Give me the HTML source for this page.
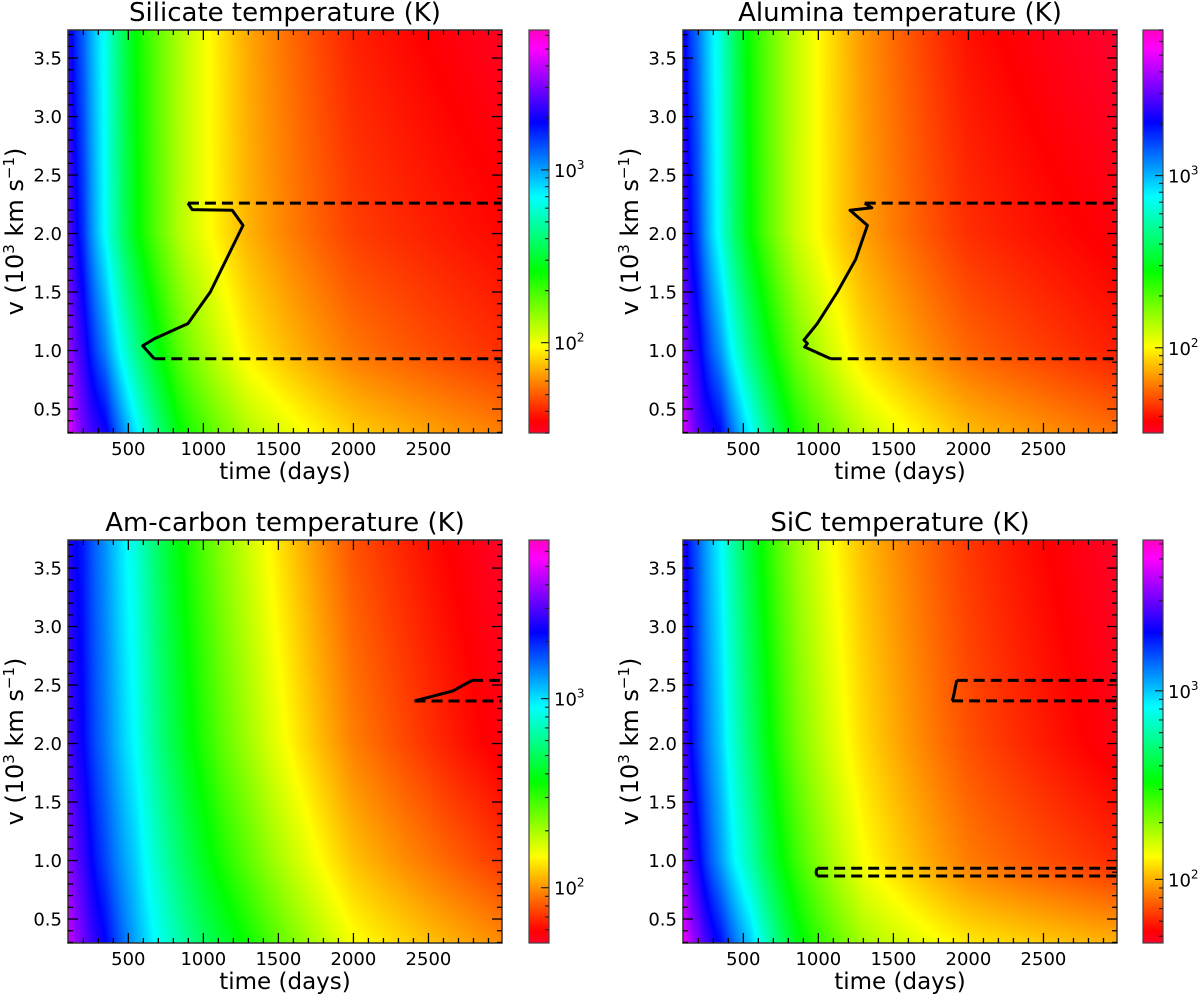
<!DOCTYPE html>
<html><head><meta charset="utf-8">
<style>
html,body{margin:0;padding:0;background:#fff;}
#root{position:relative;width:1200px;height:997px;overflow:hidden;font-family:"DejaVu Sans","Liberation Sans",sans-serif;}
canvas{position:absolute;}
svg{position:absolute;left:0;top:0;}
</style></head>
<body>
<div id="root"></div>
<script>
// ---- data ----
const T_TIMES = [100, 200, 350, 550, 850, 1300, 2000, 3000];
const V_ROWS = [0.3, 1.0, 2.0, 3.75];
// Silicate temperature (K) per velocity row
const SIL_V03 = [4900, 2880, 2000, 760, 257, 129, 79, 58];
const SIL_V10 = [3550, 2240, 1120, 447, 178, 89, 56, 42];
const SIL_V20 = [2820, 1580, 676, 275, 126, 71, 45, 36];
const SIL_V375 = [2190, 1290, 646, 257, 129, 68, 40, 31];
// Alumina
const ALU_V03 = [4900, 2880, 2000, 760, 257, 129, 79, 58];
const ALU_V10 = [3550, 2240, 1120, 447, 178, 89, 56, 42];
const ALU_V20 = [2820, 1580, 676, 275, 126, 71, 45, 36];
const ALU_V375 = [2190, 1290, 646, 257, 129, 68, 40, 31];
// Am-carbon
const AMC_V03 = [4680, 3310, 2240, 1230, 661, 347, 150, 97];
const AMC_V10 = [3800, 2750, 1740, 1070, 537, 260, 118, 72];
const AMC_V20 = [3020, 2240, 1450, 891, 427, 204, 93, 56];
const AMC_V375 = [2570, 2040, 1320, 794, 363, 174, 79, 51];
// SiC
const SIC_V03 = [4900, 3160, 1950, 977, 363, 182, 123, 100];
const SIC_V10 = [3470, 2140, 1170, 617, 269, 135, 83, 62];
const SIC_V20 = [2750, 1660, 977, 490, 219, 117, 71, 50];
const SIC_V375 = [2340, 1450, 832, 398, 191, 105, 65, 46];
// colorbar ranges (K)
const CB_MIN = [30, 32, 51, 46];
const CB_MAX = [6450, 7000, 6900, 6300];
// condensation contours
const SIL_SOLID_T = [897, 925, 1192, 1264, 1046, 897, 673, 596, 673];
const SIL_SOLID_V = [2.26, 2.205, 2.20, 2.07, 1.50, 1.23, 1.10, 1.04, 0.93];
const SIL_DASH_T = [897, 673];
const SIL_DASH_V = [2.26, 0.93];
const ALU_SOLID_T = [1309, 1356, 1211, 1327, 1249, 1127, 993, 904, 927, 909, 1082];
const ALU_SOLID_V = [2.26, 2.22, 2.20, 2.07, 1.78, 1.50, 1.23, 1.09, 1.06, 1.03, 0.93];
const ALU_DASH_T = [1309, 1082];
const ALU_DASH_V = [2.26, 0.93];
const AMC_SOLID_T = [2407, 2663, 2790];
const AMC_SOLID_V = [2.364, 2.45, 2.54];
const AMC_DASH_T = [2790, 2407];
const AMC_DASH_V = [2.54, 2.364];
const SIC_SOLID_T = [1922, 1900, 1891];
const SIC_SOLID_V = [2.54, 2.40, 2.365];
const SIC_SOLID2_T = [992, 984, 992];
const SIC_SOLID2_V = [0.934, 0.90, 0.868];
const SIC_DASH_T = [1922, 1891, 992, 992];
const SIC_DASH_V = [2.54, 2.365, 0.934, 0.868];
const X_TICKS = [500, 1000, 1500, 2000, 2500];
const Y_TICKS = [0.5, 1.0, 1.5, 2.0, 2.5, 3.0, 3.5];
const TITLES = ["Silicate temperature (K)", "Alumina temperature (K)", "Am-carbon temperature (K)", "SiC temperature (K)"];

// ---- layout ----
const XMIN = 98, XMAX = 2990, YMIN = 0.295, YMAX = 3.74;
const panels = [
  {x:68, y:30, cb:529, grid:[SIL_V03,SIL_V10,SIL_V20,SIL_V375], solids:[[SIL_SOLID_T,SIL_SOLID_V]], dt:SIL_DASH_T, dv:SIL_DASH_V, name:'silicate'},
  {x:683, y:30, cb:1143, grid:[ALU_V03,ALU_V10,ALU_V20,ALU_V375], solids:[[ALU_SOLID_T,ALU_SOLID_V]], dt:ALU_DASH_T, dv:ALU_DASH_V, name:'alumina'},
  {x:68, y:540, cb:529, grid:[AMC_V03,AMC_V10,AMC_V20,AMC_V375], solids:[[AMC_SOLID_T,AMC_SOLID_V]], dt:AMC_DASH_T, dv:AMC_DASH_V, name:'am-carbon'},
  {x:683, y:540, cb:1143, grid:[SIC_V03,SIC_V10,SIC_V20,SIC_V375], solids:[[SIC_SOLID_T,SIC_SOLID_V],[SIC_SOLID2_T,SIC_SOLID2_V]], dt:SIC_DASH_T, dv:SIC_DASH_V, name:'sic'}
];
const PW = 434, PH = 403, CBW = 20;

const STOPS = [[0,[255,0,41]],[0.03,[255,0,0]],[0.215,[255,255,0]],[0.4,[0,255,0]],[0.586,[0,255,255]],[0.77,[0,0,255]],[0.954,[255,0,255]],[1,[255,0,191]]];
function cmap(f){
  f = Math.max(0, Math.min(1, f));
  for (let i=1;i<STOPS.length;i++){
    if (f <= STOPS[i][0]){
      const a=STOPS[i-1], b=STOPS[i], u=(f-a[0])/(b[0]-a[0]);
      return [0,1,2].map(k=>Math.round(a[1][k]+(b[1][k]-a[1][k])*u));
    }
  }
  return STOPS[STOPS.length-1][1];
}
function interpLogT(grid, t, v){
  const lt = Math.log10(Math.max(T_TIMES[0], Math.min(T_TIMES[T_TIMES.length-1], t)));
  let i=0; while (i<T_TIMES.length-2 && lt > Math.log10(T_TIMES[i+1])) i++;
  const u = (lt-Math.log10(T_TIMES[i]))/(Math.log10(T_TIMES[i+1])-Math.log10(T_TIMES[i]));
  const vv = Math.max(V_ROWS[0], Math.min(V_ROWS[V_ROWS.length-1], v));
  let j=0; while (j<V_ROWS.length-2 && vv > V_ROWS[j+1]) j++;
  const w = (vv-V_ROWS[j])/(V_ROWS[j+1]-V_ROWS[j]);
  const g = (r,c)=>Math.log10(grid[r][c]);
  const a = g(j,i)*(1-u)+g(j,i+1)*u, b = g(j+1,i)*(1-u)+g(j+1,i+1)*u;
  return a*(1-w)+b*w;
}

const root = document.getElementById('root');
const NS = 'http://www.w3.org/2000/svg';
const svg = document.createElementNS(NS,'svg');
svg.setAttribute('width','1200'); svg.setAttribute('height','997');
function el(tag, attrs, parent){
  const e = document.createElementNS(NS, tag);
  for (const k in attrs) e.setAttribute(k, attrs[k]);
  (parent||svg).appendChild(e); return e;
}

panels.forEach((p, idx)=>{
  const lo = Math.log10(CB_MIN[idx]), hi = Math.log10(CB_MAX[idx]);
  const sx = t => p.x + (t-XMIN)/(XMAX-XMIN)*PW;
  const sy = v => p.y + (YMAX-v)/(YMAX-YMIN)*PH;
  const cy = T => p.y + PH - (Math.log10(T)-lo)/(hi-lo)*PH;
  // heatmap
  const cv = document.createElement('canvas');
  cv.width = PW; cv.height = PH;
  cv.style.left = p.x+'px'; cv.style.top = p.y+'px';
  
  
  const ctx = cv.getContext('2d');
  const img = ctx.createImageData(PW, PH);
  for (let py=0; py<PH; py++){
    const v = YMAX - (py+0.5)/PH*(YMAX-YMIN);
    for (let px=0; px<PW; px++){
      const t = XMIN + (px+0.5)/PW*(XMAX-XMIN);
      const c = cmap((interpLogT(p.grid, t, v)-lo)/(hi-lo));
      const o = (py*PW+px)*4;
      img.data[o]=c[0]; img.data[o+1]=c[1]; img.data[o+2]=c[2]; img.data[o+3]=255;
    }
  }
  ctx.putImageData(img,0,0);
  root.appendChild(cv);
  // colorbar
  const cb = document.createElement('canvas');
  cb.width = CBW; cb.height = PH;
  cb.style.left = p.cb+'px'; cb.style.top = p.y+'px';
  
  
  const cctx = cb.getContext('2d');
  for (let py=0; py<PH; py++){
    const c = cmap(1-(py+0.5)/PH);
    cctx.fillStyle = `rgb(${c[0]},${c[1]},${c[2]})`;
    cctx.fillRect(0,py,CBW,1);
  }
  root.appendChild(cb);

  const g = el('g', {});
  
  
  // contours
  p.solids.forEach(([ts,vs])=>{
    const pl = el('polyline', {points: ts.map((t,i)=>sx(t).toFixed(1)+','+sy(vs[i]).toFixed(1)).join(' '), fill:'none', stroke:'#000', 'stroke-width':3, 'stroke-linejoin':'round'}, g);
    
    
  });
  p.dt.forEach((t,i)=>{
    const ln = el('line', {x1:sx(t), y1:sy(p.dv[i]), x2:p.x+PW, y2:sy(p.dv[i]), stroke:'#000','stroke-width':3,'stroke-dasharray':'11,6'}, g);
    
    
  });
  // frame
  el('rect',{x:p.x,y:p.y,width:PW,height:PH,fill:'none',stroke:'#333','stroke-width':1.5},g);
  el('rect',{x:p.cb,y:p.y,width:CBW,height:PH,fill:'none',stroke:'#444','stroke-width':1.2},g);
  // x ticks
  for (let t=200; t<=2900; t+=100){
    const X = sx(t), major = (t%500===0), L = major?10:5;
    el('line',{x1:X,y1:p.y+PH,x2:X,y2:p.y+PH-L,stroke:'#000','stroke-width':1.3},g);
    el('line',{x1:X,y1:p.y,x2:X,y2:p.y+L,stroke:'#000','stroke-width':1.3},g);
  }
  X_TICKS.forEach(t=>{
    const tx = el('text',{x:sx(t),y:p.y+PH+22,'font-size':18,'text-anchor':'middle',fill:'#000'},g);
    tx.textContent = t;
    
    
  });
  // y ticks
  for (let k=3; k<=37; k++){
    const v = k/10, Y = sy(v), major = (k%5===0), L = major?10:5;
    el('line',{x1:p.x,y1:Y,x2:p.x+L,y2:Y,stroke:'#000','stroke-width':1.3},g);
    el('line',{x1:p.x+PW,y1:Y,x2:p.x+PW-L,y2:Y,stroke:'#000','stroke-width':1.3},g);
  }
  Y_TICKS.forEach(v=>{
    const ty = el('text',{x:p.x-6,y:sy(v)+6.5,'font-size':18,'text-anchor':'end',fill:'#000'},g);
    ty.textContent = v.toFixed(1);
    
    
  });
  // colorbar ticks
  for (let d=1; d<=4; d++){
    for (let m=1; m<=9; m++){
      const T = m*Math.pow(10,d);
      if (T < CB_MIN[idx] || T > CB_MAX[idx]) continue;
      const Y = cy(T), L = m===1?8:4;
      el('line',{x1:p.cb+CBW,y1:Y,x2:p.cb+CBW-L,y2:Y,stroke:'#222','stroke-width':1.2},g);
      if (m===1){
        const tl = el('text',{x:p.cb+CBW+5,y:Y+7,'font-size':18,fill:'#000'},g);
        tl.innerHTML = '10<tspan dy="-8" font-size="12">'+d+'</tspan>';
        
        
      }
    }
  }
  // title
  const tt = el('text',{x:p.x+PW/2,y:p.y-9,'font-size':26,'text-anchor':'middle',fill:'#000'},g);
  tt.textContent = TITLES[idx];
  
  
  // axis labels
  const xl = el('text',{x:p.x+PW/2,y:p.y+PH+46,'font-size':23,'text-anchor':'middle',fill:'#000'},g);
  xl.textContent = 'time (days)';
  
  
  const yx = p.x-45, yy = p.y+PH/2;
  const yl = el('text',{x:yx,y:yy,'font-size':24,'text-anchor':'middle',fill:'#000',transform:`rotate(-90 ${yx} ${yy})`},g);
  yl.innerHTML = 'v (10<tspan dy="-9" font-size="15">3</tspan><tspan dy="9"> km s</tspan><tspan dy="-9" font-size="15">−1</tspan><tspan dy="9">)</tspan>';
  
  
});
root.appendChild(svg);
</script>
</body></html>
